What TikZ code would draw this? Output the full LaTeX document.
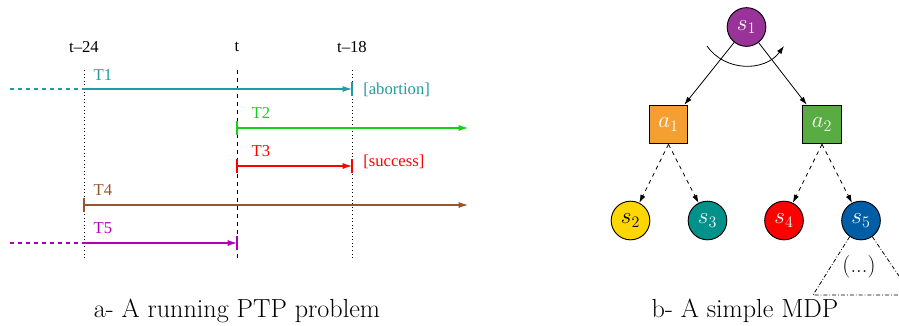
\documentclass[tikz,border=0pt]{standalone}
\usepackage{fontspec}
\newfontfamily\tms{Liberation Serif}
\usetikzlibrary{arrows.meta}
\definecolor{cTone}{RGB}{32,155,160}
\definecolor{cTtwo}{RGB}{20,210,20}
\definecolor{cTthree}{RGB}{255,0,0}
\definecolor{cTfour}{RGB}{150,85,45}
\definecolor{cTfive}{RGB}{175,0,180}
\definecolor{cSone}{RGB}{153,51,153}
\definecolor{cAone}{RGB}{245,158,50}
\definecolor{cAtwo}{RGB}{88,172,66}
\definecolor{cStwo}{RGB}{255,215,0}
\definecolor{cSthree}{RGB}{0,145,138}
\definecolor{cSfour}{RGB}{255,0,0}
\definecolor{cSfive}{RGB}{0,94,166}
\tikzset{
  tl/.style={font=\tms\fontsize{12.5}{14}\selectfont, inner sep=0pt},
  tarrow/.style={line width=0.8pt, -{Latex[length=7pt,width=4.5pt]}},
  tbar/.style={line width=0.8pt},
  guide/.style={line width=0.7pt, dotted},
  state/.style={circle, draw=black, line width=0.7pt, minimum size=29pt, inner sep=0pt, font=\fontsize{18}{20}\selectfont},
  act/.style={rectangle, draw=black, line width=0.7pt, minimum size=29pt, inner sep=0pt, font=\fontsize{18}{20}\selectfont},
  sarrow/.style={line width=0.6pt, -{Latex[length=6pt,width=4pt]}},
  darrow/.style={line width=0.6pt, dashed, -{Latex[length=6pt,width=4pt]}},
  tri/.style={line width=0.6pt, dash pattern=on 3pt off 1.5pt on 0.6pt off 1.5pt},
  caption/.style={font=\fontsize{19.6}{22}\selectfont, inner sep=0pt}
}
\begin{document}
\begin{tikzpicture}[x=0.75pt,y=-0.75pt]
\useasboundingbox (0,0) rectangle (899,325);
% ---------- left: timeline ----------
\node[tl] (l24) at (84,47) {t–24};
\node[tl] (lt) at (237,47) {t};
\node[tl] (l18) at (352,47) {t–18};
\coordinate (g24a) at (84,70); \coordinate (g24b) at (84,260);
\coordinate (gta) at (237,70); \coordinate (gtb) at (237,260);
\coordinate (g18a) at (352,70); \coordinate (g18b) at (352,260);
\draw[guide] (g24a) -- (g24b);
\draw[line width=0.7pt, dashed] (gta) -- (gtb);
\draw[guide] (g18a) -- (g18b);
% T1
\coordinate (t1s) at (10,89); \coordinate (t1m) at (84,89); \coordinate (t1e) at (352,89);
\draw[cTone, line width=0.8pt, dashed] (t1s) -- (t1m);
\draw[cTone, tarrow] (t1m) -- (t1e);
\draw[cTone, tbar] ([yshift=-5]t1e) -- ([yshift=5]t1e);
\node[tl, text=cTone] (T1) at (103,75) {T1};
\node[tl, text=cTone, anchor=west] (ab) at (363,90) {[abortion]};
% T2
\coordinate (t2s) at (237,128); \coordinate (t2e) at (468,128);
\draw[cTtwo, tarrow] (t2s) -- (t2e);
\draw[cTtwo, tbar] ([yshift=-5]t2s) -- ([yshift=5]t2s);
\node[tl, text=cTtwo] (T2) at (261,113) {T2};
% T3
\coordinate (t3s) at (237,166); \coordinate (t3e) at (352,166);
\draw[cTthree, tarrow] (t3s) -- (t3e);
\draw[cTthree, tbar] ([yshift=-5]t3s) -- ([yshift=5]t3s);
\draw[cTthree, tbar] ([yshift=-5]t3e) -- ([yshift=5]t3e);
\node[tl, text=cTthree] (T3) at (261,151) {T3};
\node[tl, text=cTthree, anchor=west] (su) at (363,162) {[success]};
% T4
\coordinate (t4s) at (84,205); \coordinate (t4e) at (468,205);
\draw[cTfour, tarrow] (t4s) -- (t4e);
\draw[cTfour, tbar] ([yshift=-5]t4s) -- ([yshift=5]t4s);
\node[tl, text=cTfour] (T4) at (103,190) {T4};
% T5
\coordinate (t5s) at (10,243); \coordinate (t5m) at (84,243); \coordinate (t5e) at (237,243);
\draw[cTfive, line width=0.8pt, dashed] (t5s) -- (t5m);
\draw[cTfive, tarrow] (t5m) -- (t5e);
\draw[cTfive, tbar] ([yshift=-5]t5e) -- ([yshift=5]t5e);
\node[tl, text=cTfive] (T5) at (103,228) {T5};
\node[caption] (capa) at (237,311) {a- A running PTP problem};
% ---------- right: MDP ----------
\node[state, fill=cSone, text=white] (s1) at (746.5,27) {$s_1$};
\node[act, fill=cAone, text=white] (a1) at (668.5,124.5) {$a_1$};
\node[act, fill=cAtwo, text=white] (a2) at (822,124.5) {$a_2$};
\node[state, fill=cStwo, text=black] (s2) at (630.5,220.5) {$s_2$};
\node[state, fill=cSthree, text=white] (s3) at (707.5,220.5) {$s_3$};
\node[state, fill=cSfour, text=white] (s4) at (784,220.5) {$s_4$};
\node[state, fill=cSfive, text=white] (s5) at (861,220.5) {$s_5$};
\draw[sarrow] (s1) -- (a1);
\draw[sarrow] (s1) -- (a2);
\coordinate (arcs) at (707,46); \coordinate (arce) at (784,46);
\draw[sarrow] (arcs) .. controls (725,72) and (765,72) .. (arce);
\draw[darrow] (a1.south) -- (s2);
\draw[darrow] (a1.south) -- (s3);
\draw[darrow] (a2.south) -- (s4);
\draw[darrow] (a2.south) -- (s5);
\coordinate (trl) at (813,295); \coordinate (trr) at (899,295);
\coordinate (trre) at (899,276);
\draw[tri] (s5.-125) -- (trl) -- (trr);
\draw[tri] (s5.-55) -- (trre);
\node[font=\fontsize{17}{19}\selectfont, inner sep=0pt] (dots) at (859,267) {(...)};
\node[caption] (capb) at (745,311) {b- A simple MDP};
\end{tikzpicture}
\end{document}
